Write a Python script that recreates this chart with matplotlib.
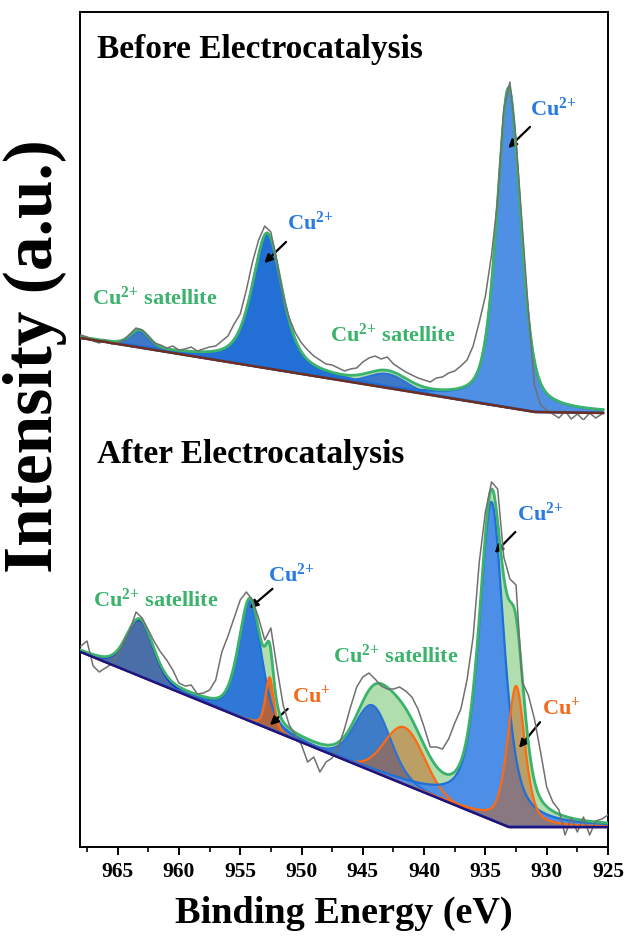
import matplotlib
matplotlib.use("Agg")
import matplotlib.pyplot as plt
import numpy as np

plt.rcParams['font.family'] = 'Liberation Serif'
plt.rcParams['font.weight'] = 'bold'
plt.rcParams['mathtext.fontset'] = 'custom'
plt.rcParams['mathtext.rm'] = 'Liberation Serif:bold'
plt.rcParams['mathtext.default'] = 'regular'

# ---- raw Cu 2p spectra (0.5 eV steps, a.u.) ----
raw_before_E = np.arange(968.0, 925.4, -0.5)
raw_before = [85, 83, 79, 77, 80, 76, 77, 80, 86, 92,
              90, 84, 77, 75, 72, 74, 70, 71, 73, 69,
              71, 73, 74, 79, 84, 96, 106, 130, 158, 180,
              194, 188, 158, 124, 102, 87, 77, 70, 64, 60,
              56, 55, 52, 49, 51, 52, 58, 62, 64, 61,
              63, 56, 52, 48, 45, 42, 40, 38, 42, 43,
              47, 49, 54, 60, 74, 98, 124, 165, 220, 311,
              338, 280, 195, 110, 35, 15, 10, 6, 2, 9,
              1, 6, 0, 7, 2, 6]

raw_after_E = np.arange(968.0, 924.9, -0.5)
raw_after = [201, 206, 181, 175, 179, 183, 192, 205, 217, 235,
             229, 217, 205, 195, 187, 177, 164, 161, 162, 153,
             154, 157, 167, 195, 211, 229, 247, 255, 247, 229,
             207, 219, 179, 142, 122, 112, 102, 85, 90, 75,
             85, 89, 100, 118, 140, 160, 170, 174, 168, 161,
             158, 158, 160, 156, 150, 138, 120, 100, 100, 98,
             108, 124, 138, 167, 210, 285, 335, 365, 358, 290,
             268, 262, 165, 152, 128, 95, 60, 45, 37, 12,
             29, 15, 30, 12, 26, 28, 32]

# ---- background anchors (eV, a.u.) ----
bg_before_E = [925.4, 931.0, 968.0]
bg_before_I = [7, 8, 82]
bg_after_E = [925.0, 933.1, 968.0]
bg_after_I = [20, 20, 195]

# ---- fitted components: centre (eV), height, FWHM (eV), Lorentz fraction ----
fit_before = {
    'sat1':  (963.2, 16, 1.8, 0.2),
    'cu2_12': (952.8, 135, 2.9, 0.6),
    'sat2':  (943.0, 14, 3.6, 0.0),
    'cu2_32': (933.1, 320, 2.3, 0.45),
}
fit_after = {
    'sat1':  (963.2, 56, 2.6, 0.3),
    'cu2_12': (954.2, 120, 2.2, 0.4),
    'cu1_12': (952.6, 52, 0.8, 0.5),
    'sat2':  (944.2, 66, 3.4, 0.2),
    'sat3':  (941.6, 57, 3.8, 0.0),
    'cu2_32': (934.5, 318, 2.4, 0.6),
    'cu1_32': (932.5, 141, 1.7, 0.5),
}


def pvoigt(E, c, h, w, eta):
    x = (E - c) / w
    return h * ((1 - eta) * np.exp(-4 * np.log(2) * x ** 2) + eta / (1 + 4 * x ** 2))


GREEN = '#3cb36c'
BLUE_TXT = '#2a7be0'
ORANGE = '#f26a1b'


def draw_panel(ax, E, bg, comps, styles, raw_E, raw_I, bg_color):
    env = bg + sum(pvoigt(E, *p) for p in comps.values())
    ax.fill_between(E, bg, env, color='#a9dba4', alpha=0.9, lw=0, zorder=1)
    for key, p in comps.items():
        fc, ec, a = styles[key]
        y = bg + pvoigt(E, *p)
        ax.fill_between(E, bg, y, color=fc, alpha=a, lw=0, zorder=2)
        ax.plot(E, y, color=ec, lw=1.6, zorder=3)
    ax.plot(E, env, color=GREEN, lw=2.0, zorder=4)
    ax.plot(raw_E, raw_I, color='#707070', lw=1.1, zorder=5)
    ax.plot(E, bg, color=bg_color, lw=1.8, zorder=6)


fig = plt.figure(figsize=(6.29, 9.40), dpi=100)
ax1 = fig.add_axes([0.1272, 0.5532, 0.8394, 0.4340])
ax2 = fig.add_axes([0.1272, 0.0989, 0.8394, 0.4543])

# Before electrocatalysis
E1 = np.linspace(968.0, 925.4, 900)
bg1 = np.interp(E1, bg_before_E, bg_before_I)
styles1 = {
    'sat1': ('#3f78c8', '#2b72d4', 1.0),
    'cu2_12': ('#2270d6', '#1f6fd6', 1.0),
    'sat2': ('#3f78c8', '#2b72d4', 1.0),
    'cu2_32': ('#4f8fe4', '#1f6fd6', 1.0),
}
draw_panel(ax1, E1, bg1, fit_before, styles1, raw_before_E, raw_before, '#6e2e22')

# After electrocatalysis
E2 = np.linspace(968.0, 925.0, 900)
bg2 = np.interp(E2, bg_after_E, bg_after_I)
styles2 = {
    'sat1': ('#4a6fa8', '#1020e6', 1.0),
    'cu2_12': ('#2f78d8', '#1f6fd6', 1.0),
    'sat2': ('#3f7cc8', '#2b72d4', 1.0),
    'cu2_32': ('#4d8fe6', '#1f6fd6', 1.0),
    'cu1_12': ('#d2601a', '#ff6a10', 0.8),
    'sat3': ('#c8621e', '#ff6a10', 0.5),
    'cu1_32': ('#c8621e', '#ff6a10', 0.5),
}
draw_panel(ax2, E2, bg2, fit_after, styles2, raw_after_E, raw_after, '#16168a')

for ax in (ax1, ax2):
    ax.set_xlim(968.07, 925)
    ax.set_yticks([])
    for s in ax.spines.values():
        s.set_linewidth(1.4)
ax1.set_ylim(0, 408)
ax2.set_ylim(0, 427)
ax1.spines['bottom'].set_visible(False)
ax2.spines['top'].set_visible(False)
ax1.set_xticks([])

ax2.set_xticks([965, 960, 955, 950, 945, 940, 935, 930, 925])
ax2.set_xticks(np.arange(967.5, 925, -2.5), minor=True)
ax2.tick_params(axis='x', which='major', direction='out', length=6, width=1.4,
                labelsize=15.5, pad=5)
ax2.tick_params(axis='x', which='minor', direction='out', length=3.5, width=1.2)
ax2.set_xlabel('Binding Energy (eV)', fontsize=27.5, fontweight='bold', labelpad=10)

fig.text(0.056, 0.621, 'Intensity (a.u.)', rotation=90, ha='center', va='center',
         fontsize=50, fontweight='bold')

ax1.text(0.033, 0.887, 'Before Electrocatalysis', transform=ax1.transAxes,
         fontsize=24, fontweight='bold', va='baseline')
ax2.text(0.033, 0.9, 'After Electrocatalysis', transform=ax2.transAxes,
         fontsize=24, fontweight='bold', va='baseline')

arrow = dict(arrowstyle='-|>', color='black', lw=1.6, mutation_scale=12)
lab = dict(fontsize=16, fontweight='bold', va='baseline')
CU2 = 'Cu$^{2{+}}$'
CU1 = 'Cu$^{{+}}$'
SAT = 'Cu$^{2{+}}$ satellite'

# labels, before
ax1.text(951.2, 190, CU2, color=BLUE_TXT, **lab)
ax1.annotate('', xy=(953.2, 155), xytext=(951.1, 180), arrowprops=arrow)
ax1.text(931.4, 304, CU2, color=BLUE_TXT, **lab)
ax1.annotate('', xy=(933.3, 270), xytext=(931.2, 295), arrowprops=arrow)
ax1.text(967.1, 115, SAT, color=GREEN, **lab)
ax1.text(947.7, 78, SAT, color=GREEN, **lab)

# labels, after
ax2.text(967.0, 240, SAT, color=GREEN, **lab)
ax2.text(952.75, 265, CU2, color=BLUE_TXT, **lab)
ax2.annotate('', xy=(954.4, 237), xytext=(952.2, 260), arrowprops=arrow)
ax2.text(950.8, 145, CU1, color=ORANGE, **lab)
ax2.annotate('', xy=(952.75, 120), xytext=(950.96, 140), arrowprops=arrow)
ax2.text(947.45, 184, SAT, color=GREEN, **lab)
ax2.text(932.45, 326, CU2, color=BLUE_TXT, **lab)
ax2.annotate('', xy=(934.4, 292), xytext=(932.4, 317), arrowprops=arrow)
ax2.text(930.4, 133, CU1, color=ORANGE, **lab)
ax2.annotate('', xy=(932.4, 97), xytext=(930.4, 127), arrowprops=arrow)

fig.savefig('out.png', dpi=100)
